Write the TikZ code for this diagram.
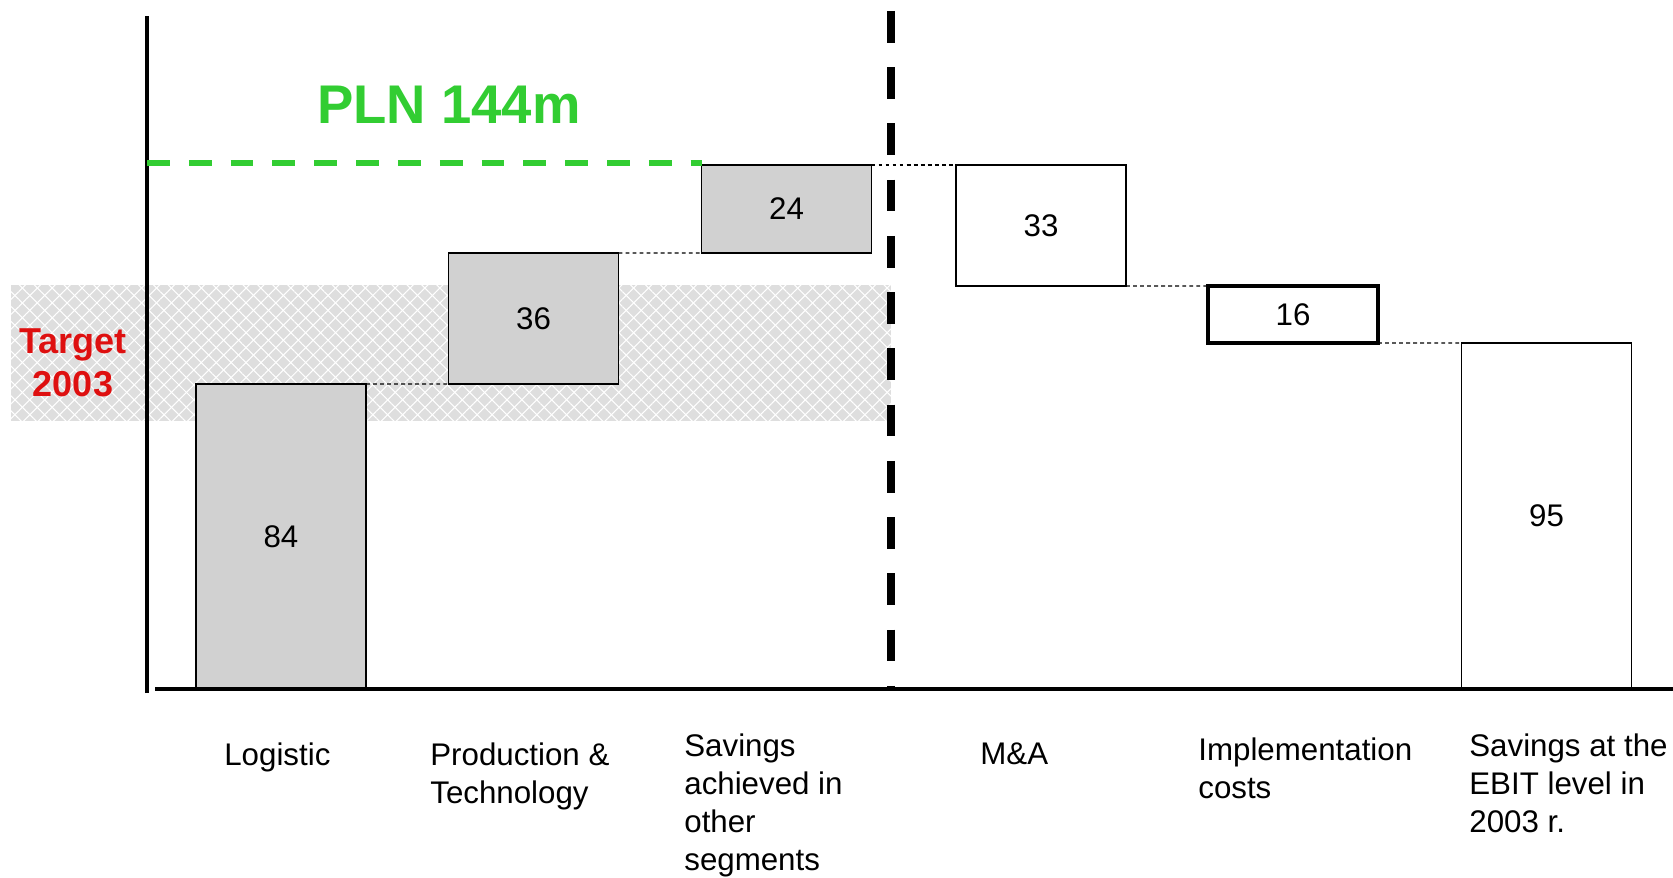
\documentclass[tikz,border=0pt]{standalone}
\usepackage{fontspec}
\setmainfont{Liberation Sans}
\usetikzlibrary{patterns.meta}
\definecolor{planGreen}{RGB}{50,205,50}
\definecolor{targetRed}{RGB}{222,16,16}

\begin{document}
\begin{tikzpicture}[every node/.style={font=\fontsize{17.8}{21.7}\selectfont},
  bar/.style={draw, line width=0.9pt, minimum width=3.4cm, inner sep=0pt, outer sep=0pt},
  saving/.style={bar, fill=black!18},
  cost/.style={bar, fill=white},
  link/.style={line width=0.7pt, dash pattern=on 2.2pt off 1.8pt},
  lbl/.style={anchor=base west, align=left, inner sep=0pt}]
  \useasboundingbox (0,0) rectangle (33.46,17.54);

  % target band
  \fill[black!13] (0.22,9.12) rectangle (17.82,11.84);
  \fill[pattern={Lines[angle=45,distance=6pt,line width=0.6pt]}, pattern color=white] (0.22,9.12) rectangle (17.82,11.84);
  \fill[pattern={Lines[angle=-45,distance=6pt,line width=0.6pt]}, pattern color=white] (0.22,9.12) rectangle (17.82,11.84);
  \node[font=\bfseries\fontsize{20.5}{24.4}\selectfont, text=targetRed, align=center] (tgt)
    at (1.46,10.29) {Target\\2003};

  % savings
  \node[saving, minimum height=6.10cm] (lg) at (5.62,6.81) {84};
  \node[saving, minimum height=2.62cm] (pt) at (10.67,11.17) {36};
  \node[saving, minimum height=1.76cm] (sv) at (15.73,13.36) {24};

  % M&A, costs, EBIT
  \node[cost, minimum height=2.42cm] (ma) at (20.82,13.03) {33};
  \node[cost, line width=2pt, minimum height=1.14cm] (ic) at (25.86,11.25) {16};
  \node[cost, minimum height=6.92cm] (eb) at (30.93,7.22) {95};

  \draw[link] (lg.north east) -- (pt.south west);
  \draw[link] (pt.north east) -- (sv.south west);
  \draw[link] (sv.north east) -- (ma.north west);
  \draw[link] (ma.south east) -- (ic.north west);
  \draw[link] (ic.south east) -- (eb.north west);

  % axes
  \coordinate (yBot) at (2.94,3.68);
  \coordinate (yTop) at (2.94,17.22);
  \coordinate (xL) at (3.10,3.76);
  \coordinate (xR) at (33.46,3.76);
  \draw[line width=2.4pt] (yBot) -- (yTop);
  \draw[line width=2.4pt] (xL) -- (xR);

  % divider
  \coordinate (dTop) at (17.82,17.32);
  \coordinate (dBot) at (17.82,3.76);
  \draw[line width=4.4pt, dash pattern=on 18pt off 14pt] (dTop) -- (dBot);

  % plan level
  \coordinate (plan) at (2.94,14.28);
  \draw[planGreen, line width=3pt, dash pattern=on 13pt off 10.8pt] (plan) -- (plan -| sv.west);
  \node[font=\bfseries\fontsize{31}{36}\selectfont, text=planGreen] (planLbl) at (8.98,15.44) {PLN 144m};

  % categories (anchored at the last line)
  \node[lbl] (l1) at (4.48,2.24) {Logistic};
  \node[lbl] (l2) at (8.60,1.475) {Production \&\\Technology};
  \node[lbl] (l3) at (13.68,0.125) {Savings\\achieved in\\other\\segments};
  \node[lbl] (l4) at (19.60,2.26) {M\&A};
  \node[lbl] (l5) at (23.96,1.575) {Implementation\\costs};
  \node[lbl] (l6) at (29.38,0.89) {Savings at the\\EBIT level in\\2003 r.};
\end{tikzpicture}
\end{document}
